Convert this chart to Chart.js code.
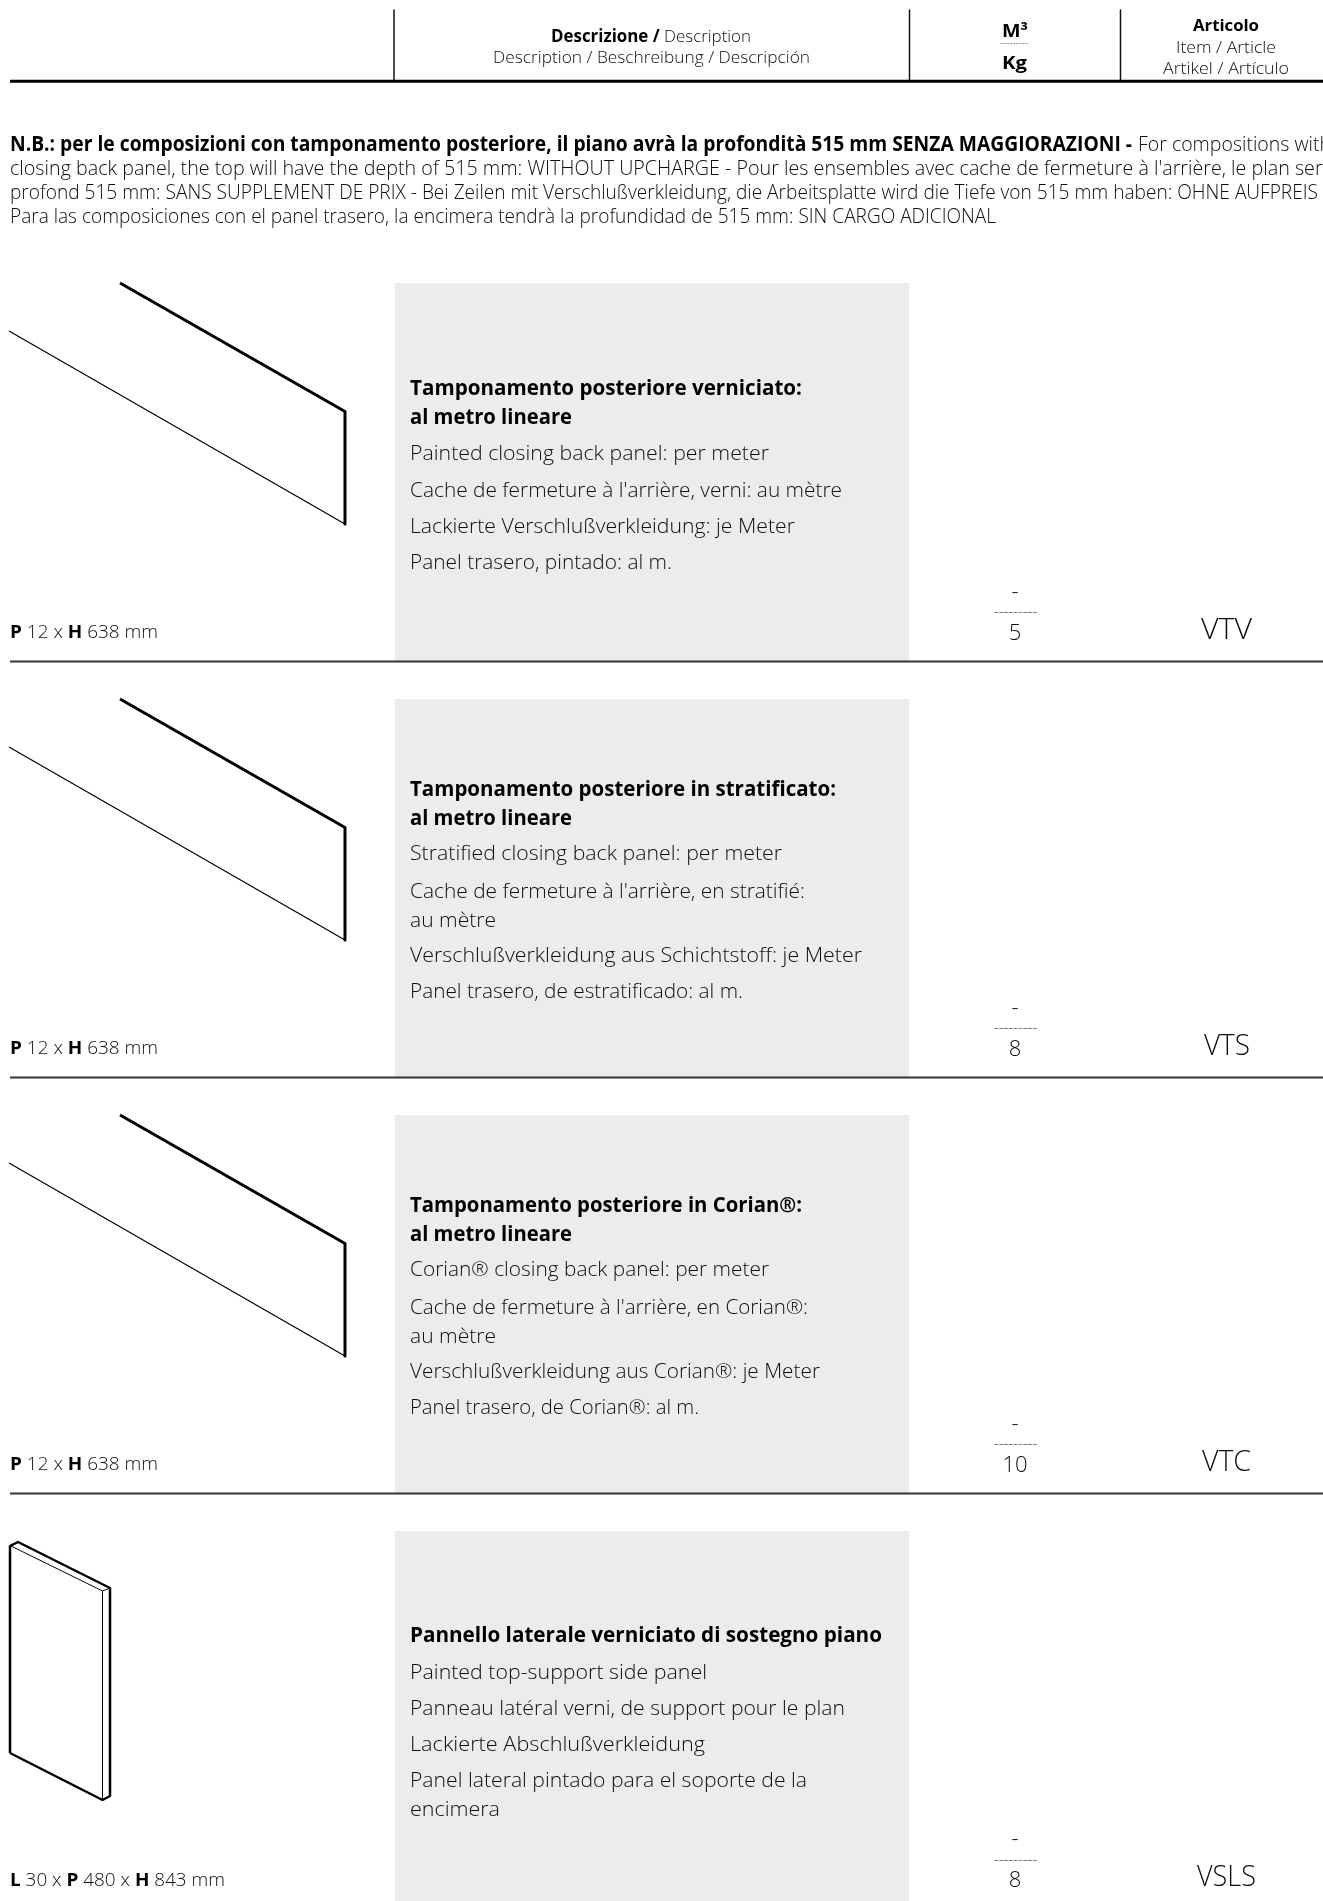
<!DOCTYPE html>
<html>
<head>
<meta charset="utf-8">
<title>Tamponamento posteriore</title>
<script src="https://cdn.jsdelivr.net/npm/chart.js@4"></script>
<style>
  html, body { margin: 0; padding: 0; background: #fff; }
  #page { position: relative; width: 1323px; height: 1901px; overflow: hidden; }
  #sheet { position: absolute; left: 0; top: 0; }
  .t {
    position: absolute; white-space: pre; line-height: 0; transform-origin: 0 0;
    font-family: "Open Sans", sans-serif; font-weight: 300; color: #0d0d0d;
  }
  .t b { font-weight: 700; color: #000; }
</style>
</head>
<body>
<div id="page"><canvas id="sheet" width="1323" height="1901"></canvas></div>
<script>
// ---------- Data ----------
const rowArticles = ["VTV", "VTS", "VTC", "VSLS"];
const rowVolumes = ["-", "-", "-", "-"];
const rowWeights = ["5", "8", "10", "8"];
const rowDims = [
  "<b>P</b> 12 x <b>H</b> 638 mm",
  "<b>P</b> 12 x <b>H</b> 638 mm",
  "<b>P</b> 12 x <b>H</b> 638 mm",
  "<b>L</b> 30 x <b>P</b> 480 x <b>H</b> 843 mm"
];

// row rules and grey boxes, page px on the chart's own axes
const rowRuleY = [661.5, 1077.5, 1493.5];
const boxTopY = [283, 699, 1115, 1531];
const boxBottomY = [661, 1077, 1493, 1901];
const backPanelOffsets = [0, 416, 832];

// back panel outline
const backThickX = [120, 345, 345];
const backThickY = [283, 411.5, 524];
const backThinX = [9, 345];
const backThinY = [331, 524];

// side panel outline
const sideOuterX = [10, 10, 18, 110, 110, 102.5, 10];
const sideOuterY = [1753, 1546, 1542, 1588, 1796, 1800, 1753];
const sideInnerX = [11, 102.5, 110];
const sideInnerY = [1546, 1591, 1588];
const sideEdgeX = [102.5, 102.5];
const sideEdgeY = [1591, 1800];

// text: [html, x, baseline, width, font size]
const headerText = [
  ["<b>Descrizione /</b> Description", 551, 43, 200, 17],
  ["Description / Beschreibung / Descripción", 493, 64, 317, 17],
  ["<b>M³</b>", 1002, 37, 26, 18],
  ["<b>Kg</b>", 1002, 69, 25, 18],
  ["<b>Articolo</b>", 1193, 31, 66, 16],
  ["Item / Article", 1176, 53, 100, 16],
  ["Artikel / Artículo", 1163, 74, 126, 16]
];
const noteText = [
  ["<b>N.B.: per le composizioni con tamponamento posteriore, il piano avrà la profondità 515 mm SENZA MAGGIORAZIONI -</b>", 10, 151, 1122, 21],
  ["For compositions with", 1138, 151, 193, 21],
  ["closing back panel, the top will have the depth of 515 mm: WITHOUT UPCHARGE - Pour les ensembles avec cache de fermeture à l'arrière, le plan sera", 10, 175, 1323, 21],
  ["profond 515 mm: SANS SUPPLEMENT DE PRIX - Bei Zeilen mit Verschlußverkleidung, die Arbeitsplatte wird die Tiefe von 515 mm haben: OHNE AUFPREIS", 10, 199, 1308, 21],
  ["Para las composiciones con el panel trasero, la encimera tendrà la profundidad de 515 mm: SIN CARGO ADICIONAL", 10, 223, 986, 21]
];
const rowText = [
  ["<b>Tamponamento posteriore verniciato:</b>", 395, 392],
  ["<b>al metro lineare</b>", 424, 162],
  ["Painted closing back panel: per meter", 460, 359],
  ["Cache de fermeture à l'arrière, verni: au mètre", 497, 432],
  ["Lackierte Verschlußverkleidung: je Meter", 533, 385],
  ["Panel trasero, pintado: al m.", 569, 262],

  ["<b>Tamponamento posteriore in stratificato:</b>", 796, 426],
  ["<b>al metro lineare</b>", 825, 162],
  ["Stratified closing back panel: per meter", 860, 372],
  ["Cache de fermeture à l'arrière, en stratifié:", 898, 395],
  ["au mètre", 927, 86],
  ["Verschlußverkleidung aus Schichtstoff: je Meter", 962, 452],
  ["Panel trasero, de estratificado: al m.", 998, 333],

  ["<b>Tamponamento posteriore in Corian®:</b>", 1212, 392],
  ["<b>al metro lineare</b>", 1241, 162],
  ["Corian® closing back panel: per meter", 1276, 359],
  ["Cache de fermeture à l'arrière, en Corian®:", 1314, 398],
  ["au mètre", 1343, 86],
  ["Verschlußverkleidung aus Corian®: je Meter", 1378, 410],
  ["Panel trasero, de Corian®: al m.", 1414, 289],

  ["<b>Pannello laterale verniciato di sostegno piano</b>", 1642, 472],
  ["Painted top-support side panel", 1679, 297],
  ["Panneau latéral verni, de support pour le plan", 1715, 435],
  ["Lackierte Abschlußverkleidung", 1751, 295],
  ["Panel lateral pintado para el soporte de la", 1787, 397],
  ["encimera", 1816, 90]
];
const dimWidths = [148, 148, 148, 215];
const dimBaselines = [638.5, 1054.5, 1470.5, 1886.5];
const articleBaselines = [639.5, 1055.5, 1471.5, 1887];
const articleWidths = [51, 46, 49, 59];

// ---------- Text helpers ----------
const page = document.getElementById("page");

function addText(html, x, baseline, width, size, center) {
  let el = document.createElement("div");
  el.className = "t";
  el.innerHTML = html;
  el.style.fontSize = size + "px";
  el.style.top = (baseline - 0.388 * size) + "px";
  page.appendChild(el);
  let natural = el.getBoundingClientRect().width;
  let w = width || natural;
  el.style.left = (center ? x - w / 2 : x) + "px";
  el.style.transform = `scaleX(${w / natural})`;
}

headerText.forEach(t => addText(t[0], t[1], t[2], t[3], t[4]));
addText("---------", 1014, 46.5, 28, 9, true);
noteText.forEach(t => addText(t[0], t[1], t[2], t[3], t[4]));
rowText.forEach(t => addText(t[0], 410, t[1], t[2], 21));

rowArticles.forEach((name, i) => {
  let b = articleBaselines[i];
  addText(rowDims[i], 10, dimBaselines[i], dimWidths[i], 18.5);
  addText(rowVolumes[i], 1015, b - 41, 0, 22, true);
  addText("---------", 1015, b - 22.5, 43, 12, true);
  addText(rowWeights[i], 1015, b, 0, 22, true);
  addText(name, 1226.5, b, articleWidths[i], 30, true);
});

// ---------- Chart ----------
function pts(xs, ys, dy = 0) {
  return xs.map((x, i) => ({ x, y: ys[i] + dy }));
}

function stroke(data, width, color = "#000") {
  return {
    type: "line", data, order: 1, borderColor: color, borderWidth: width,
    pointRadius: 0, tension: 0, fill: false, borderJoinStyle: "round", borderCapStyle: "butt"
  };
}

let datasets = [];

// grey boxes
boxTopY.forEach((top, i) => {
  let xs = [395, 909, 909, 395, 395];
  let ys = [top, top, boxBottomY[i], boxBottomY[i], top];
  datasets.push({
    type: "line", data: pts(xs, ys), order: 5, borderWidth: 0, borderColor: "#ececec",
    backgroundColor: "#ececec", pointRadius: 0, tension: 0, fill: "shape"
  });
});

// header rules
datasets.push(stroke(pts([10, 1323], [81.3, 81.3]), 3));
[394, 909.5, 1120.5].forEach(x => datasets.push(stroke(pts([x, x], [10, 81]), 1.5, "#111")));

// row rules
rowRuleY.forEach(y => datasets.push(stroke(pts([10, 1323], [y, y]), 1.8, "#333")));

// back panels
backPanelOffsets.forEach(dy => {
  datasets.push(stroke(pts(backThickX, backThickY, dy), 3));
  datasets.push(stroke(pts(backThinX, backThinY, dy), 1.2));
});

// side panel
datasets.push(stroke(pts(sideOuterX, sideOuterY), 2.5));
datasets.push(stroke(pts(sideInnerX, sideInnerY), 1));
datasets.push(stroke(pts(sideEdgeX, sideEdgeY), 1));

new Chart(document.getElementById("sheet"), {
  type: "line",
  data: { datasets },
  options: {
    responsive: false,
    animation: false,
    layout: { padding: 0 },
    plugins: { legend: { display: false }, tooltip: { enabled: false } },
    scales: {
      x: { type: "linear", min: 0, max: 1323, display: false },
      y: { type: "linear", min: 0, max: 1901, reverse: true, display: false }
    }
  }
});
</script>
</body>
</html>
